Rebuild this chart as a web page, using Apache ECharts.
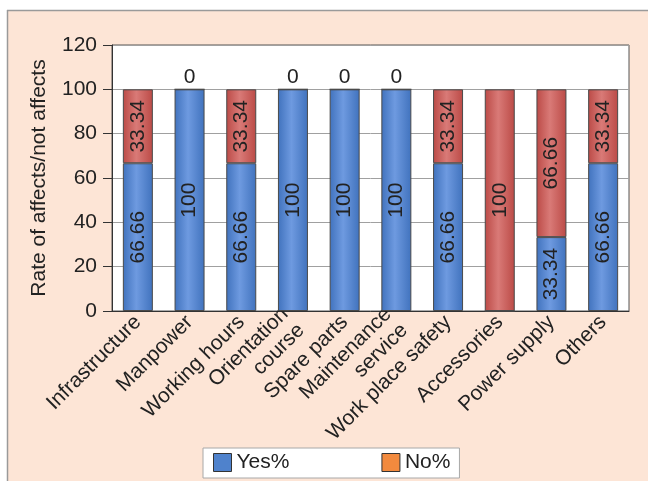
<!DOCTYPE html>
<html>
<head>
<meta charset="utf-8">
<script src="https://cdn.jsdelivr.net/npm/echarts@6/dist/echarts.min.js"></script>
<style>
  html, body { margin: 0; padding: 0; background: #fff; }
  #chart { width: 656px; height: 487px; }
</style>
</head>
<body>
<div id="chart"></div>
<script>
// Survey categories and the share answering yes / no (percent)
const categories = ['Infrastructure', 'Manpower', 'Working hours', 'Orientation\ncourse', 'Spare parts',
  'Maintenance\nservice', 'Work place safety', 'Accessories', 'Power supply', 'Others'];
const yesValues = [66.66, 100, 66.66, 100, 100, 100, 66.66, 0, 33.34, 66.66];
const noValues = [33.34, 0, 33.34, 0, 0, 0, 33.34, 100, 66.66, 33.34];
const yTicks = { min: 0, max: 120, interval: 20 };
const yTitle = 'Rate of affects/not affects';

const FONT = 'Liberation Sans, Arial, sans-serif';
const TEXT = '#222';

function barGradient(edge, mid) {
  return new echarts.graphic.LinearGradient(0, 0, 1, 0, [
    { offset: 0, color: edge }, { offset: 0.45, color: mid }, { offset: 1, color: edge }
  ]);
}
const blueFill = barGradient('#4072bd', '#6e9ae0');
const redFill = barGradient('#bb4a46', '#d97a77');

// Inside labels read sideways; a zero "No" share gets its 0 printed above the bar.
function seriesData(values, isTop) {
  return values.map(v => {
    if (v !== 0) return v;
    return isTop
      ? { value: v, label: { show: true, position: 'top', rotate: 0, distance: 1 } }
      : { value: v, label: { show: false } };
  });
}

const axisCats = categories.map(c => c.includes('\n')
  ? { value: c, textStyle: { padding: [24, 0, 0, 0] } }
  : c);

const chart = echarts.init(document.getElementById('chart'), null, { renderer: 'canvas' });
chart.setOption({
  backgroundColor: '#ffffff',
  textStyle: { fontFamily: FONT },
  graphic: [
    { type: 'rect', z: -10, shape: { x: 7, y: 10, width: 641, height: 471 },
      style: { fill: '#fde5d6', stroke: null } },
    { type: 'line', z: -9, shape: { x1: 7.5, y1: 10, x2: 7.5, y2: 481 },
      style: { stroke: '#9a9a9a', lineWidth: 1.5 } },
    { type: 'line', z: -9, shape: { x1: 7, y1: 10.5, x2: 648, y2: 10.5 },
      style: { stroke: '#9a9a9a', lineWidth: 1.5 } }
  ],
  grid: {
    left: 112, right: 27, top: 45, bottom: 176,
    show: true, backgroundColor: '#ffffff', borderColor: '#555', borderWidth: 1
  },
  legend: {
    left: 203, top: 448,
    data: [
      { name: 'Yes%', itemStyle: { color: '#4f82cc', borderColor: '#333', borderWidth: 1 } },
      { name: 'No%', itemStyle: { color: '#f28a3e', borderColor: '#333', borderWidth: 1 } }
    ],
    icon: 'rect',
    itemWidth: 18, itemHeight: 18, itemGap: 92,
    backgroundColor: '#ffffff', borderColor: '#a8a8a8', borderWidth: 1,
    padding: [4, 9, 5, 10],
    textStyle: { fontSize: 21, color: TEXT, fontFamily: FONT }
  },
  xAxis: {
    type: 'category',
    data: axisCats,
    axisLine: { lineStyle: { color: '#333', width: 1 } },
    axisTick: { show: false },
    axisLabel: { interval: 0, rotate: 45, fontSize: 21, color: TEXT, margin: 8, lineHeight: 23 }
  },
  yAxis: {
    type: 'value',
    min: yTicks.min, max: yTicks.max, interval: yTicks.interval,
    name: yTitle, nameLocation: 'middle', nameGap: 62,
    nameTextStyle: { fontSize: 21, color: TEXT },
    axisLine: { show: true, lineStyle: { color: '#333', width: 1 } },
    axisTick: { show: true, inside: false, length: 9, lineStyle: { color: '#333' } },
    axisLabel: { fontSize: 21, color: TEXT, margin: 15 },
    splitLine: { lineStyle: { color: '#a0a0a0', width: 1 } }
  },
  series: [
    {
      name: 'Yes%', type: 'bar', stack: 'total', barWidth: 30,
      data: seriesData(yesValues, false),
      itemStyle: { color: blueFill, borderColor: '#4a4a4a', borderWidth: 1 },
      label: { show: true, position: 'inside', rotate: 90, fontSize: 21, color: TEXT }
    },
    {
      name: 'No%', type: 'bar', stack: 'total', barWidth: 30,
      data: seriesData(noValues, true),
      itemStyle: { color: redFill, borderColor: '#4a4a4a', borderWidth: 1 },
      label: { show: true, position: 'inside', rotate: 90, fontSize: 21, color: TEXT }
    }
  ]
});
</script>
</body>
</html>
